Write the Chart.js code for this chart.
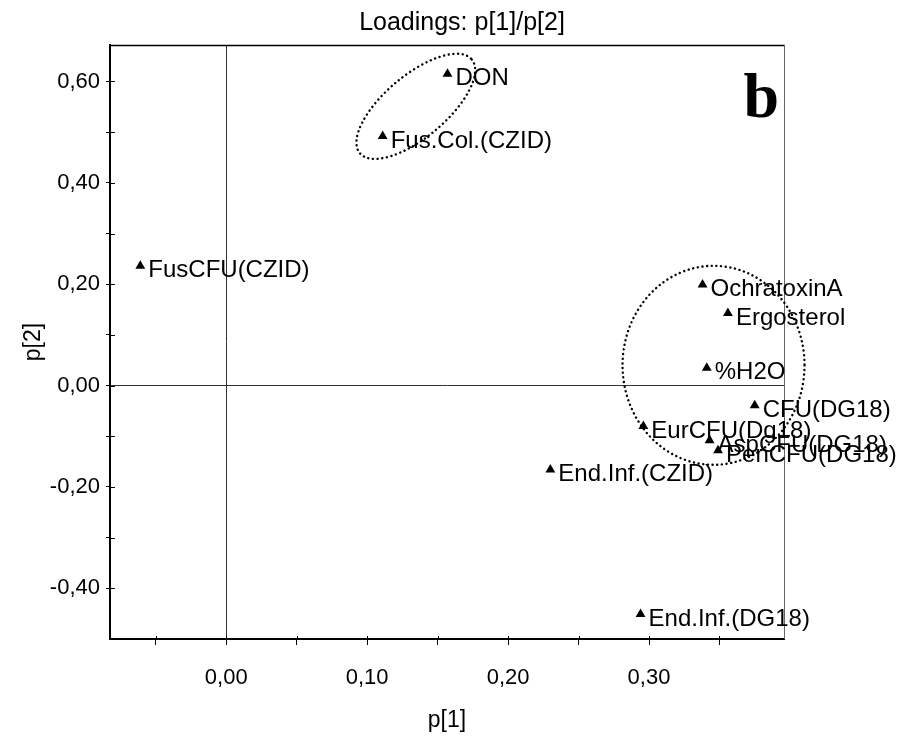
<!DOCTYPE html>
<html>
<head>
<meta charset="utf-8">
<script src="https://cdn.jsdelivr.net/npm/chart.js@4.4.0/dist/chart.umd.min.js"></script>
<style>
html, body { margin: 0; padding: 0; background: #fff; }
#wrap { width: 907px; height: 738px; }
</style>
</head>
<body>
<div id="wrap"><canvas id="loadings" width="907" height="738"></canvas></div>
<script>
// loadings
const varNames = ['DON', 'Fus.Col.(CZID)', 'FusCFU(CZID)', 'OchratoxinA', 'Ergosterol', '%H2O',
    'CFU(DG18)', 'EurCFU(Dg18)', 'AspCFU(DG18)', 'PenCFU(DG18)', 'End.Inf.(CZID)', 'End.Inf.(DG18)'];
const p1 = [0.157, 0.111, -0.061, 0.338, 0.356, 0.341, 0.375, 0.296, 0.343, 0.349, 0.230, 0.294];
const p2 = [0.615, 0.492, 0.236, 0.199, 0.143, 0.035, -0.039, -0.080, -0.108, -0.128, -0.166, -0.451];

// axis ticks (major ones carry a label, minor ones don't)
const xTickValues = [-0.05, 0, 0.05, 0.10, 0.15, 0.20, 0.25, 0.30, 0.35];
const xTickLabels = ['', '0,00', '', '0,10', '', '0,20', '', '0,30', ''];
const yTickValues = [-0.4, -0.3, -0.2, -0.1, 0, 0.1, 0.2, 0.3, 0.4, 0.5, 0.6];
const yTickLabels = ['-0,40', '', '-0,20', '', '0,00', '', '0,20', '', '0,40', '', '0,60'];

// dotted group outlines: centre in data units, radii in px, rotation in degrees
const groups = [
    { cx: 0.1345, cy: 0.551, rx: 73, ry: 31, rot: -40 },
    { cx: 0.3458, cy: 0.040, rx: 91, ry: 99.5, rot: 0 }
];

const FONT = "'Liberation Sans', Arial, sans-serif";

const decor = {
    id: 'decor',
    beforeDatasetsDraw(chart) {
        const { ctx, chartArea: a } = chart;
        ctx.save();
        // top and right frame
        ctx.strokeStyle = '#000';
        ctx.lineWidth = 1.5;
        ctx.beginPath(); ctx.moveTo(a.left, a.top + 0.5); ctx.lineTo(a.right + 1, a.top + 0.5); ctx.stroke();
        ctx.strokeStyle = '#666';
        ctx.lineWidth = 1;
        ctx.beginPath(); ctx.moveTo(a.right + 0.5, a.top); ctx.lineTo(a.right + 0.5, a.bottom); ctx.stroke();
        // inner halves of the tick marks
        ctx.strokeStyle = '#000';
        const xs = chart.scales.x, ys = chart.scales.y;
        ys.ticks.forEach(t => {
            const py = Math.round(ys.getPixelForValue(t.value)) + 0.5;
            ctx.beginPath(); ctx.moveTo(a.left, py); ctx.lineTo(a.left + 5, py); ctx.stroke();
        });
        xs.ticks.forEach(t => {
            const px = Math.round(xs.getPixelForValue(t.value)) + 0.5;
            ctx.beginPath(); ctx.moveTo(px, a.bottom); ctx.lineTo(px, a.bottom - 3); ctx.stroke();
        });
        ctx.restore();
    },
    afterDatasetsDraw(chart) {
        const { ctx } = chart;
        const xs = chart.scales.x, ys = chart.scales.y;
        ctx.save();
        // dotted ellipses
        ctx.strokeStyle = '#000';
        ctx.lineWidth = 2.4;
        ctx.lineCap = 'round';
        ctx.setLineDash([0.1, 4.6]);
        groups.forEach(g => {
            ctx.beginPath();
            ctx.ellipse(xs.getPixelForValue(g.cx), ys.getPixelForValue(g.cy), g.rx, g.ry, g.rot * Math.PI / 180, 0, Math.PI * 2);
            ctx.stroke();
        });
        ctx.setLineDash([]);
        // point labels
        ctx.fillStyle = '#000';
        ctx.font = '24px ' + FONT;
        ctx.textAlign = 'left';
        ctx.textBaseline = 'alphabetic';
        chart.getDatasetMeta(0).data.forEach((pt, i) => {
            ctx.fillText(varNames[i], pt.x + 8, pt.y + 11.5);
        });
        // title
        ctx.textAlign = 'center';
        ctx.font = '25px ' + FONT;
        ctx.fillText('Loadings: p[1]/p[2]', 462, 29.5);
        // panel letter
        ctx.textAlign = 'right';
        ctx.font = "bold 64px 'Liberation Serif', 'Times New Roman', serif";
        ctx.fillText('b', 779, 117);
        ctx.restore();
    }
};

const zeroLine = c => (c.tick && c.tick.value === 0) ? '#333' : 'rgba(0,0,0,0)';

new Chart(document.getElementById('loadings'), {
    type: 'scatter',
    data: {
        datasets: [{
            data: p1.map((v, i) => ({ x: v, y: p2[i] })),
            pointStyle: 'triangle',
            radius: 5.7,
            hoverRadius: 5.7,
            backgroundColor: '#000',
            borderWidth: 0,
            clip: false
        }]
    },
    options: {
        responsive: false,
        animation: false,
        events: [],
        layout: { padding: { top: 45, right: 123, left: 0, bottom: 0 } },
        plugins: { legend: { display: false }, tooltip: { enabled: false }, title: { display: false } },
        scales: {
            x: {
                type: 'linear',
                min: -0.0825,
                max: 0.3958,
                afterBuildTicks: s => { s.ticks = xTickValues.map(v => ({ value: v })); },
                afterFit: s => { s.height = 99; },
                ticks: {
                    autoSkip: false,
                    maxRotation: 0,
                    padding: 20,
                    color: '#000',
                    font: { family: FONT, size: 22 },
                    callback: (v, i) => xTickLabels[i]
                },
                grid: { color: zeroLine, tickColor: '#000', tickLength: 6, lineWidth: 1 },
                border: { display: true, color: '#000', width: 2 },
                title: { display: true, text: 'p[1]', color: '#000', font: { family: FONT, size: 23 }, padding: { top: 0, bottom: 4 } }
            },
            y: {
                type: 'linear',
                min: -0.5,
                max: 0.672,
                afterBuildTicks: s => { s.ticks = yTickValues.map(v => ({ value: v })); },
                afterFit: s => { s.width = 110; },
                ticks: {
                    autoSkip: false,
                    padding: 6,
                    color: '#000',
                    font: { family: FONT, size: 22 },
                    callback: (v, i) => yTickLabels[i]
                },
                grid: { color: zeroLine, tickColor: '#000', tickLength: 4, lineWidth: 1 },
                border: { display: true, color: '#000', width: 2 },
                title: { display: true, text: 'p[2]', color: '#000', font: { family: FONT, size: 23 }, padding: { top: 20, bottom: 0 } }
            }
        }
    },
    plugins: [decor]
});
</script>
</body>
</html>
